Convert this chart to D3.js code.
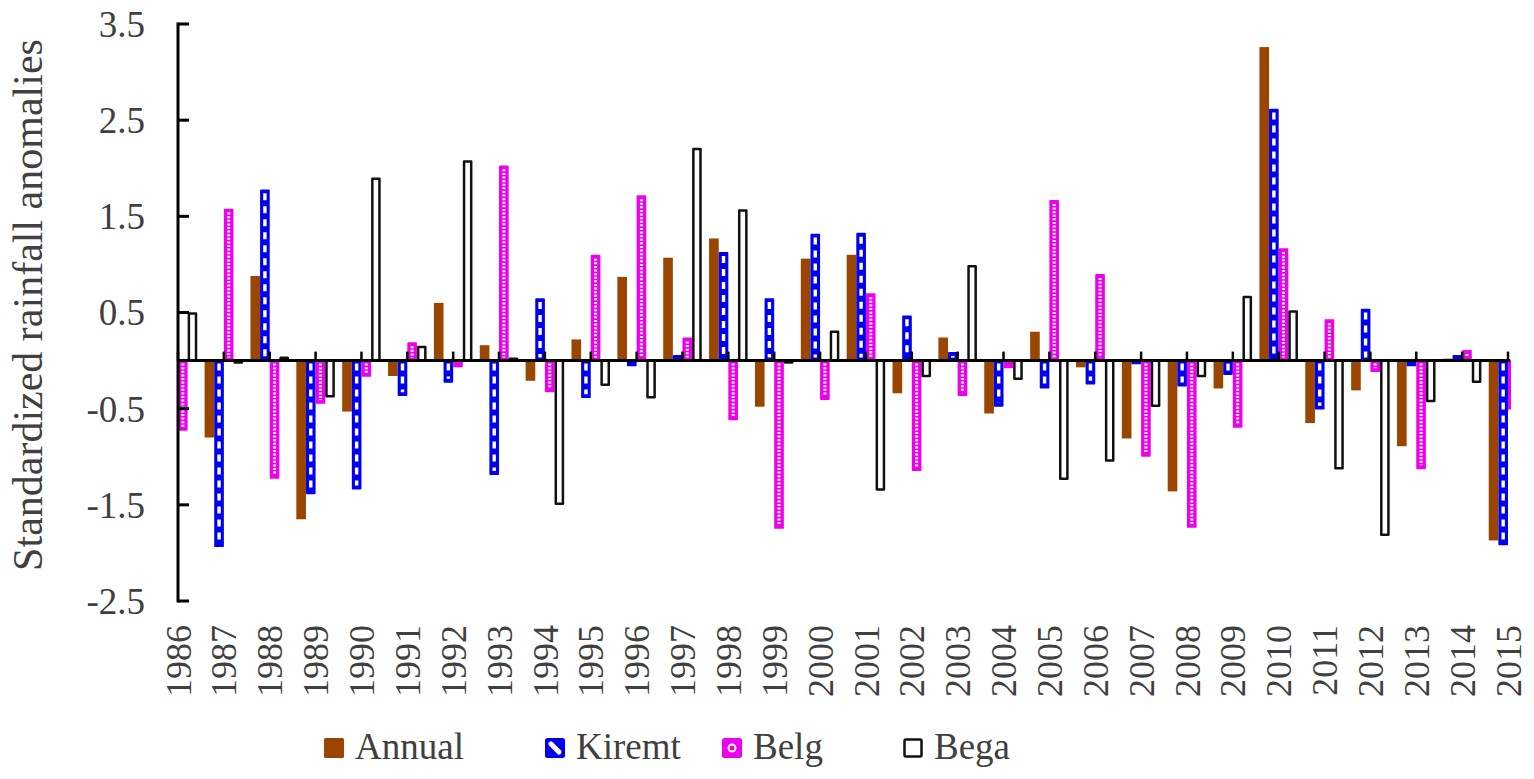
<!DOCTYPE html>
<html>
<head>
<meta charset="utf-8">
<script src="https://cdn.jsdelivr.net/npm/d3@7"></script>
<style>
  body { margin: 0; background: #ffffff; }
  svg { display: block; }
  text { font-family: "Liberation Serif", "Times New Roman", serif; fill: #404040; }
</style>
</head>
<body>
<svg id="chart" width="1534" height="779"></svg>
<script>
// ---------------- data ----------------
const years = ["1986","1987","1988","1989","1990","1991","1992","1993","1994","1995",
               "1996","1997","1998","1999","2000","2001","2002","2003","2004","2005",
               "2006","2007","2008","2009","2010","2011","2012","2013","2014","2015"];
const seriesNames = ["Annual", "Kiremt", "Belg", "Bega"];
const annual = [-0.45, -0.80, 0.88, -1.65, -0.53, -0.16, 0.60, 0.16, -0.21, 0.22,
                 0.87, 1.07, 1.27, -0.48, 1.06, 1.10, -0.34, 0.24, -0.55, 0.30,
                -0.07, -0.81, -1.36, -0.29, 3.26, -0.65, -0.31, -0.89, 0.02, -1.87];
const kiremt = [-0.20, -1.93, 1.77, -1.38, -1.33, -0.36, -0.22, -1.18, 0.64, -0.38,
                -0.05, 0.05, 1.12, 0.64, 1.31, 1.32, 0.46, 0.08, -0.47, -0.28,
                -0.24, -0.03, -0.26, -0.14, 2.61, -0.50, 0.53, -0.05, 0.05, -1.91];
const belg   = [-0.72, 1.57, -1.22, -0.44, -0.16, 0.18, -0.06, 2.02, -0.32, 1.09,
                 1.71, 0.23, -0.61, -1.74, -0.40, 0.69, -1.14, -0.36, -0.07, 1.66,
                 0.89, -0.99, -1.73, -0.69, 1.16, 0.42, -0.11, -1.12, 0.10, -0.50];
const bega   = [0.49, -0.02, 0.03, -0.37, 1.89, 0.14, 2.07, 0.02, -1.49, -0.25,
                -0.38, 2.20, 1.56, -0.02, 0.30, -1.34, -0.16, 0.98, -0.19, -1.23,
                -1.04, -0.47, -0.16, 0.66, 0.51, -1.12, -1.81, -0.42, -0.22, 0.30];
const yTicks = [3.5, 2.5, 1.5, 0.5, -0.5, -1.5, -2.5];
const yTitle = "Standardized rainfall anomalies";

const seriesValues = { Annual: annual, Kiremt: kiremt, Belg: belg, Bega: bega };

// ---------------- scales ----------------
const svg = d3.select("#chart");
const x = d3.scalePoint().domain(years).range([178, 1508]);
const y = d3.scaleLinear().domain([-2.5, 3.5]).range([601, 24]);
const step = x.step();
const bw = step * 0.21;
const sub = d3.scaleBand().domain(seriesNames).range([-2 * bw, 2 * bw]).padding(0);
const y0 = y(0);

const colors = { Annual: "#9A4600", Kiremt: "#0000EE", Belg: "#EE00EE", Bega: "#111111" };

// clip (categories on tick marks: outer half-groups are cut)
svg.append("defs").append("clipPath").attr("id", "plotClip")
  .append("rect").attr("x", 178).attr("y", 0).attr("width", 1333).attr("height", 779);

const plot = svg.append("g").attr("clip-path", "url(#plotClip)");

seriesNames.forEach(name => {
  const vals = seriesValues[name];
  const data = years.map((yr, i) => ({ yr, v: vals[i] }));
  const g = plot.append("g").attr("class", "series-" + name);
  const bx = d => x(d.yr) + sub(name);
  const top = d => Math.min(y(d.v), y0);
  const hgt = d => Math.abs(y(d.v) - y0);

  if (name === "Annual") {
    g.selectAll("rect").data(data).join("rect")
      .attr("x", bx).attr("y", top).attr("width", sub.bandwidth()).attr("height", hgt)
      .attr("fill", colors.Annual);
  } else if (name === "Kiremt" || name === "Belg") {
    const c = colors[name];
    g.selectAll("rect").data(data).join("rect")
      .attr("x", d => bx(d) + 0.9).attr("y", top)
      .attr("width", sub.bandwidth() - 1.8).attr("height", hgt)
      .attr("fill", c).attr("stroke", c).attr("stroke-width", 1.8)
      .attr("stroke-linejoin", "round");
    g.selectAll("line").data(data.filter(d => hgt(d) > 7)).join("line")
      .attr("x1", d => bx(d) + sub.bandwidth() / 2)
      .attr("x2", d => bx(d) + sub.bandwidth() / 2)
      .attr("y1", d => top(d) + 3)
      .attr("y2", d => top(d) + hgt(d) - 3)
      .attr("stroke", "#ffffff")
      .attr("stroke-width", name === "Kiremt" ? 3.4 : 3)
      .attr("stroke-dasharray", name === "Kiremt" ? "7,6" : "2,1.6");
  } else {
    g.selectAll("rect").data(data).join("rect")
      .attr("x", d => bx(d) + 1.25).attr("y", top)
      .attr("width", sub.bandwidth() - 2.5).attr("height", hgt)
      .attr("fill", "#ffffff").attr("stroke", colors.Bega).attr("stroke-width", 2.5)
      .attr("stroke-linejoin", "round");
  }
});

// ---------------- axes ----------------
const axisG = svg.append("g");
axisG.append("line").attr("x1", 178).attr("x2", 1510).attr("y1", y0).attr("y2", y0)
  .attr("stroke", "#000").attr("stroke-width", 3);
axisG.selectAll(".xt").data(years).join("line").attr("class", "xt")
  .attr("x1", d => x(d)).attr("x2", d => x(d)).attr("y1", y0 - 9).attr("y2", y0)
  .attr("stroke", "#000").attr("stroke-width", 2.5);
axisG.append("line").attr("x1", 178).attr("x2", 178).attr("y1", y(3.5) - 1.5).attr("y2", y(-2.5) + 1.5)
  .attr("stroke", "#000").attr("stroke-width", 3);
axisG.selectAll(".yt").data(yTicks).join("line").attr("class", "yt")
  .attr("x1", 178).attr("x2", 189).attr("y1", d => y(d)).attr("y2", d => y(d))
  .attr("stroke", "#000").attr("stroke-width", 3);

// y tick labels
svg.append("g").selectAll("text").data(yTicks).join("text")
  .attr("x", 145).attr("y", d => y(d)).attr("dy", "0.35em")
  .attr("text-anchor", "end").attr("font-size", 37)
  .text(d => d.toFixed(1));

// x tick labels
svg.append("g").selectAll("text").data(years).join("text")
  .attr("transform", d => `translate(${x(d)},625) rotate(-90)`)
  .attr("dy", "0.35em").attr("text-anchor", "end").attr("font-size", 36)
  .text(d => d);

// y title
svg.append("text")
  .attr("transform", "translate(42,305) rotate(-90)")
  .attr("text-anchor", "middle").attr("font-size", 42)
  .text(yTitle);

// ---------------- legend ----------------
const legendX = [324, 545, 722, 903];
const lg = svg.append("g");
seriesNames.forEach((name, i) => {
  const lx = legendX[i], ly = 738, s = 20;
  const item = lg.append("g");
  if (name === "Annual") {
    item.append("rect").attr("x", lx).attr("y", ly).attr("width", s).attr("height", s)
      .attr("rx", 1.5).attr("fill", colors.Annual);
  } else if (name === "Kiremt") {
    item.append("rect").attr("x", lx + 1).attr("y", ly + 1).attr("width", s - 2).attr("height", s - 2)
      .attr("rx", 1.5).attr("fill", colors.Kiremt).attr("stroke", colors.Kiremt).attr("stroke-width", 2);
    item.append("line").attr("x1", lx + 6).attr("y1", ly + 6).attr("x2", lx + 14).attr("y2", ly + 14)
      .attr("stroke", "#fff").attr("stroke-width", 5).attr("stroke-linecap", "round");
  } else if (name === "Belg") {
    item.append("rect").attr("x", lx + 1).attr("y", ly + 1).attr("width", s - 2).attr("height", s - 2)
      .attr("rx", 1.5).attr("fill", colors.Belg).attr("stroke", colors.Belg).attr("stroke-width", 2);
    item.append("circle").attr("cx", lx + s / 2).attr("cy", ly + s / 2).attr("r", 3.5)
      .attr("fill", "none").attr("stroke", "#fff").attr("stroke-width", 2);
  } else {
    item.append("rect").attr("x", lx + 1.5).attr("y", ly + 1.5).attr("width", s - 3).attr("height", s - 3)
      .attr("rx", 1.5).attr("fill", "#fff").attr("stroke", colors.Bega).attr("stroke-width", 2.5);
  }
  item.append("text").attr("x", lx + 31).attr("y", 759).attr("font-size", 37).text(name);
});
</script>
</body>
</html>
